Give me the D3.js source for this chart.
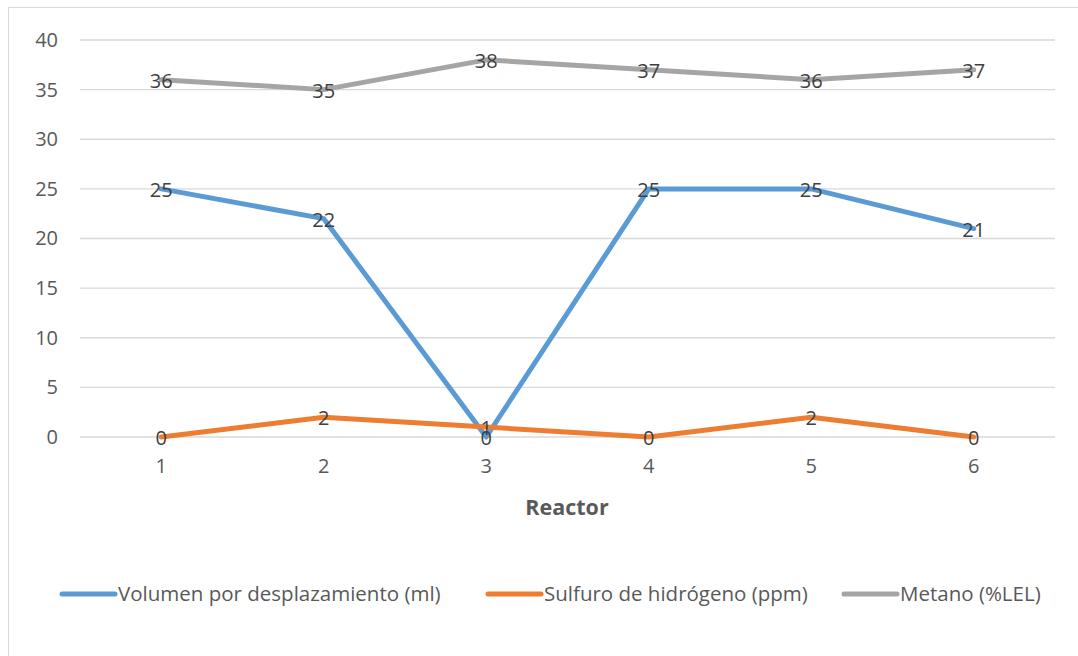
<!DOCTYPE html>
<html>
<head>
<meta charset="utf-8">
<script src="https://cdn.jsdelivr.net/npm/d3@7"></script>
<style>
body { margin: 0; background: #fff; }
text { font-family: "Open Sans", sans-serif; }
</style>
</head>
<body>
<div id="chart"></div>
<script>
const width = 1078;
const height = 656;
const reactors = ["1", "2", "3", "4", "5", "6"];
const volumen = [25, 22, 0, 25, 25, 21];
const sulfuro = [0, 2, 1, 0, 2, 0];
const metano = [36, 35, 38, 37, 36, 37];
const seriesNames = ["Volumen por desplazamiento (ml)", "Sulfuro de hidrógeno (ppm)", "Metano (%LEL)"];
const seriesColors = ["#5B9BD5", "#ED7D31", "#A5A5A5"];
const yTicks = [0, 5, 10, 15, 20, 25, 30, 35, 40];
const font = "'Open Sans', sans-serif";

const svg = d3.select("#chart")
    .append("svg")
    .attr("width", width)
    .attr("height", height);

svg.append("rect")
    .attr("x", 8.5).attr("y", 7.5)
    .attr("width", width + 10).attr("height", height + 10)
    .attr("fill", "none").attr("stroke", "#d9d9d9").attr("stroke-width", 1);

const x = d3.scaleBand().domain(reactors).range([80, 1055]);
const y = d3.scaleLinear().domain([0, 40]).range([437, 40]);

// gridlines
svg.append("g")
    .selectAll("line")
    .data(yTicks)
    .enter().append("line")
    .attr("x1", 80).attr("x2", 1055)
    .attr("y1", (d) => y(d)).attr("y2", (d) => y(d))
    .attr("stroke", "#d9d9d9").attr("stroke-width", 1.3);

// y axis
const yAxis = svg.append("g")
    .attr("transform", "translate(58,0)")
    .call(d3.axisLeft(y).tickValues(yTicks).tickSize(0).tickPadding(0));
yAxis.select(".domain").remove();
yAxis.selectAll("text").attr("font-size", 20).attr("fill", "#595959").attr("font-family", font);

// x axis
const xAxis = svg.append("g")
    .attr("transform", "translate(0,459)")
    .call(d3.axisBottom(x).tickSize(0).tickPadding(0));
xAxis.select(".domain").remove();
xAxis.selectAll("text").attr("font-size", 20).attr("fill", "#595959").attr("font-family", font);

svg.append("text")
    .attr("x", 567).attr("y", 515)
    .attr("text-anchor", "middle")
    .attr("font-size", 21.5).attr("font-weight", "bold").attr("fill", "#595959")
    .text("Reactor");

const allSeries = [volumen, sulfuro, metano];
const line = d3.line()
    .x((d, i) => x(reactors[i]) + x.bandwidth() / 2)
    .y((d) => y(d));

svg.append("g")
    .selectAll("path")
    .data(allSeries)
    .enter().append("path")
    .attr("d", line)
    .attr("fill", "none")
    .attr("stroke", (d, i) => seriesColors[i])
    .attr("stroke-width", 5)
    .attr("stroke-linejoin", "round")
    .attr("stroke-linecap", "round");

// data labels
allSeries.forEach((s) => {
    svg.append("g")
        .selectAll("text")
        .data(s)
        .enter().append("text")
        .attr("x", (d, i) => x(reactors[i]) + x.bandwidth() / 2)
        .attr("y", (d) => y(d) + 1)
        .attr("dy", "0.35em")
        .attr("text-anchor", "middle")
        .attr("font-size", 20)
        .attr("fill", "#404040")
        .text((d) => d);
});

// legend
const legendX = [60, 486, 842];
const legend = svg.append("g")
    .selectAll("g")
    .data(seriesNames)
    .enter().append("g")
    .attr("transform", (d, i) => `translate(${legendX[i]},594)`);
legend.append("line")
    .attr("x1", 2).attr("x2", 55)
    .attr("stroke", (d, i) => seriesColors[i])
    .attr("stroke-width", 5)
    .attr("stroke-linecap", "round");
legend.append("text")
    .attr("x", 58).attr("dy", "0.35em")
    .attr("font-size", 20.5).attr("fill", "#595959")
    .text((d) => d);
</script>
</body>
</html>
